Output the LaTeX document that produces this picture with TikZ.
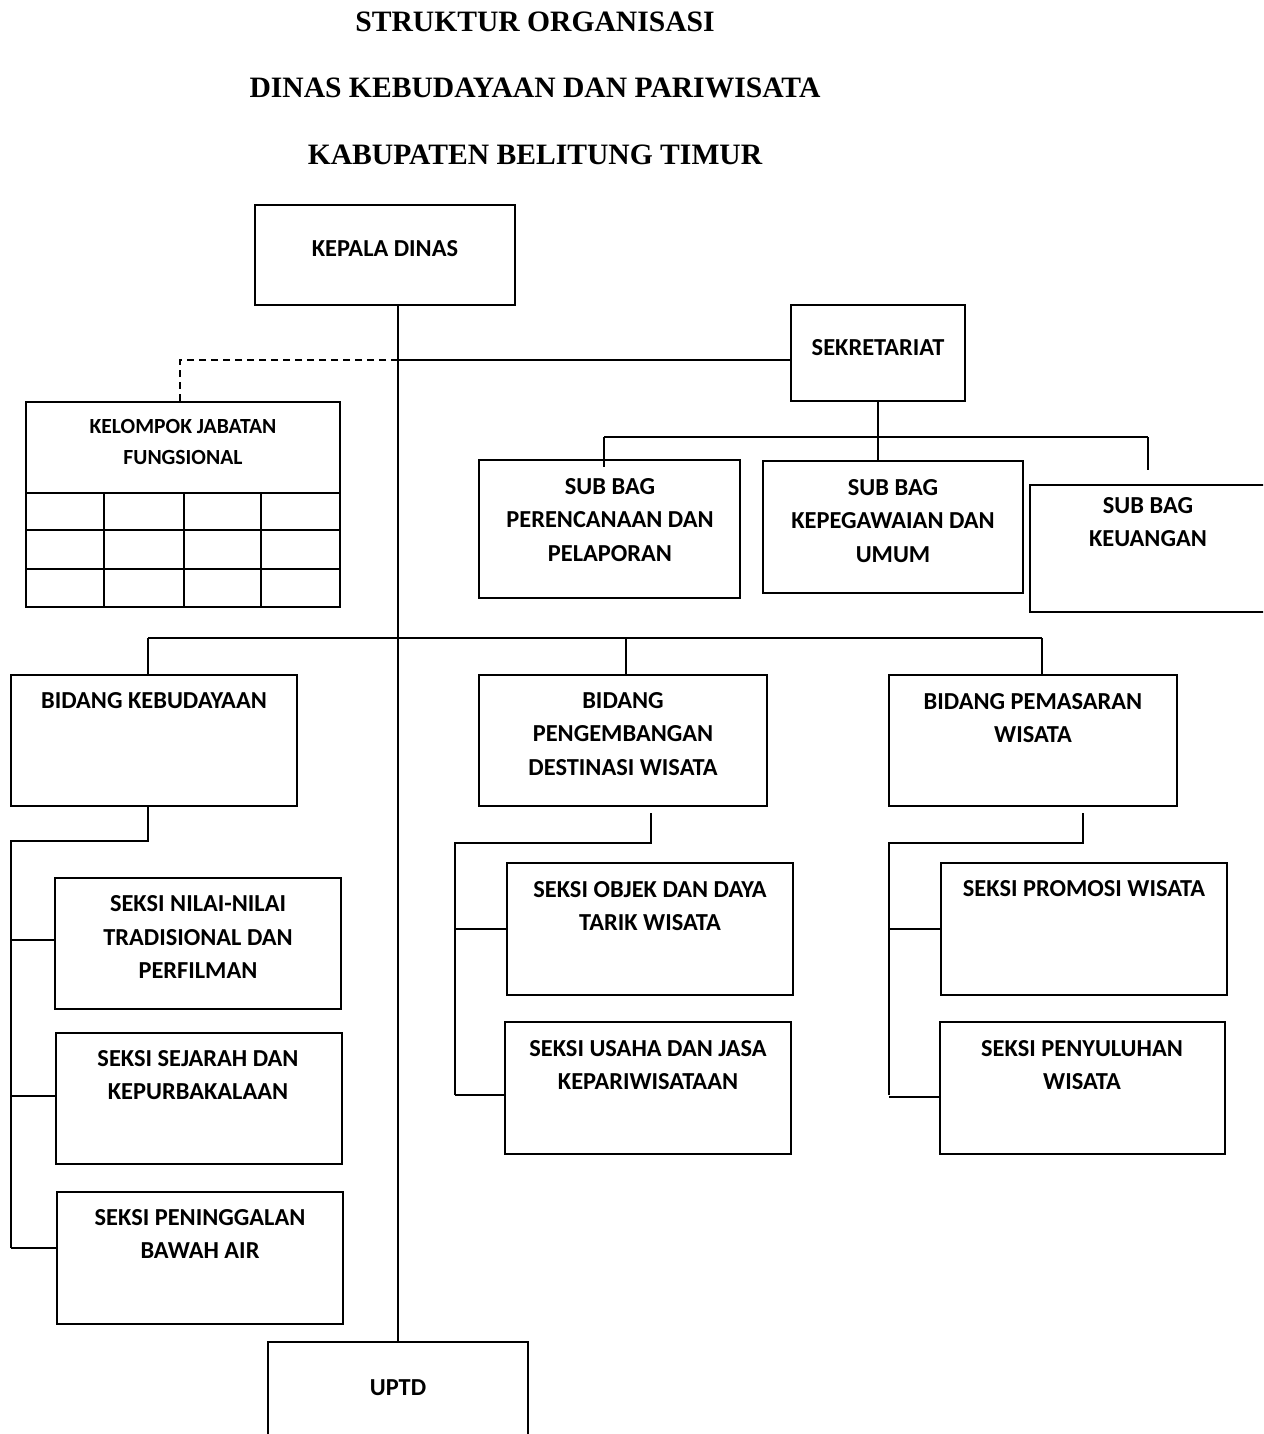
\documentclass[tikz,border=0pt]{standalone}
\usepackage{fontspec}
\setmainfont{Liberation Serif}
\newfontfamily\calfont{Carlito}
\tikzset{
  obox/.style={draw, line width=1pt, inner sep=0pt, outer sep=0pt},
  txt/.style={font=\calfont\bfseries\fontsize{12.2}{16.75}\selectfont, align=center, inner sep=0pt},
  smalltxt/.style={font=\calfont\bfseries\fontsize{10.8}{15.5}\selectfont, align=center, inner sep=0pt},
  ttl/.style={font=\bfseries\fontsize{14.8}{16}\selectfont, inner sep=0pt},
  conn/.style={line width=0.9pt},
}
\newcommand\mybox[5]{\node[obox, minimum width={(#4-#2)*0.5pt}, minimum height={(#5-#3)*0.5pt}] (#1) at ({(#2+#4)/2},{(#3+#5)/2}) {};}
\begin{document}
\begin{tikzpicture}[x=0.5pt,y=-0.5pt]
\useasboundingbox (0,0) rectangle (1263,1434);
\clip (0,0) rectangle (1263,1434);
% titles
\node[ttl] (t1) at (535,22) {STRUKTUR ORGANISASI};
\node[ttl] (t2) at (535,88) {DINAS KEBUDAYAAN DAN PARIWISATA};
\node[ttl] (t3) at (535,155) {KABUPATEN BELITUNG TIMUR};
% boxes
\mybox{kd}{255}{205}{515}{305}
\mybox{sek}{791}{305}{965}{401}
\mybox{kjf}{26}{402}{340}{607}
\mybox{sbp}{479}{460}{740}{598}
\mybox{sbk}{763}{461}{1023}{593}
\mybox{sbu}{1030}{485}{1280}{612}
\mybox{bk}{11}{675}{297}{806}
\mybox{bp}{479}{675}{767}{806}
\mybox{bw}{889}{675}{1177}{806}
\mybox{sn}{55}{878}{341}{1009}
\mybox{ss}{56}{1033}{342}{1164}
\mybox{spg}{57}{1192}{343}{1324}
\mybox{so}{507}{863}{793}{995}
\mybox{su}{505}{1022}{791}{1154}
\mybox{spr}{941}{863}{1227}{995}
\mybox{spy}{940}{1022}{1225}{1154}
\mybox{uptd}{268}{1342}{528}{1460}
% kjf grid
\draw[line width=1pt] (kjf.west |- 0,493) -- (kjf.east |- 0,493);
\draw[line width=0.9pt] (kjf.west |- 0,530) -- (kjf.east |- 0,530);
\draw[line width=0.9pt] (kjf.west |- 0,569) -- (kjf.east |- 0,569);
\foreach \cx in {104,184,261} {\draw[line width=0.9pt] (\cx,493) -- (\cx,607);}
% texts
\node[txt] (kd-t) at (385,249) {KEPALA DINAS};
\node[txt] (sek-t) at (878,348) {SEKRETARIAT};
\node[smalltxt] (kjf-t) at (183,442) {KELOMPOK JABATAN\\FUNGSIONAL};
\node[txt] (sbp-t) at (610,520) {SUB BAG\\PERENCANAAN DAN\\PELAPORAN};
\node[txt] (sbk-t) at (893,521) {SUB BAG\\KEPEGAWAIAN DAN\\UMUM};
\node[txt] (sbu-t) at (1148,522) {SUB BAG\\KEUANGAN};
\node[txt] (bk-t) at (154,701) {BIDANG KEBUDAYAAN};
\node[txt] (bp-t) at (623,734) {BIDANG\\PENGEMBANGAN\\DESTINASI WISATA};
\node[txt] (bw-t) at (1033,718) {BIDANG PEMASARAN\\WISATA};
\node[txt] (sn-t) at (198,937) {SEKSI NILAI-NILAI\\TRADISIONAL DAN\\PERFILMAN};
\node[txt] (ss-t) at (198,1075) {SEKSI SEJARAH DAN\\KEPURBAKALAAN};
\node[txt] (spg-t) at (200,1234) {SEKSI PENINGGALAN\\BAWAH AIR};
\node[txt] (so-t) at (650,906) {SEKSI OBJEK DAN DAYA\\TARIK WISATA};
\node[txt] (su-t) at (648,1065) {SEKSI USAHA DAN JASA\\KEPARIWISATAAN};
\node[txt] (spr-t) at (1084,889) {SEKSI PROMOSI WISATA};
\node[txt] (spy-t) at (1082,1065) {SEKSI PENYULUHAN\\WISATA};
\node[txt] (uptd-t) at (398,1388) {UPTD};
% connectors
\coordinate (j1) at (398,360);
\coordinate (d1) at (180,360);
\draw[conn] (kd.south -| uptd.north) -- (uptd.north);
\draw[conn] (j1) -- (j1 -| sek.west);
\draw[conn, dashed, dash pattern=on 3.5pt off 2.5pt] (j1) -- (d1) -- (d1 |- kjf.north);
% sekretariat
\coordinate (s1) at (878,437);
\draw[conn] (sek.south) -- (s1);
\draw[conn] (604,437) -- (1148,437);
\draw[conn] (s1) -- (s1 |- sbk.north);
\draw[conn] (604,437) -- (604,467);
\draw[conn] (1148,437) -- (1148,470);
% bidang
\draw[conn] (148,638) -- (1042,638);
\draw[conn] (148,638) -- (bk.north -| 148,0);
\draw[conn] (626,638) -- (bp.north -| 626,0);
\draw[conn] (1042,638) -- (bw.north -| 1042,0);
% bidang kebudayaan
\draw[conn] (bk.south -| 148,0) -- (148,841) -- (11,841) -- (11,1248);
\draw[conn] (11,940) -- (sn.west |- 0,940);
\draw[conn] (11,1096) -- (ss.west |- 0,1096);
\draw[conn] (11,1248) -- (spg.west |- 0,1248);
% bidang pengembangan
\draw[conn] (651,813) -- (651,843) -- (455,843) -- (455,1095);
\draw[conn] (455,929) -- (so.west |- 0,929);
\draw[conn] (455,1095) -- (su.west |- 0,1095);
% bidang pemasaran
\draw[conn] (1083,813) -- (1083,843) -- (889,843) -- (889,1095);
\draw[conn] (889,929) -- (spr.west |- 0,929);
\draw[conn] (889,1097) -- (spy.west |- 0,1097);
\end{tikzpicture}
\end{document}
